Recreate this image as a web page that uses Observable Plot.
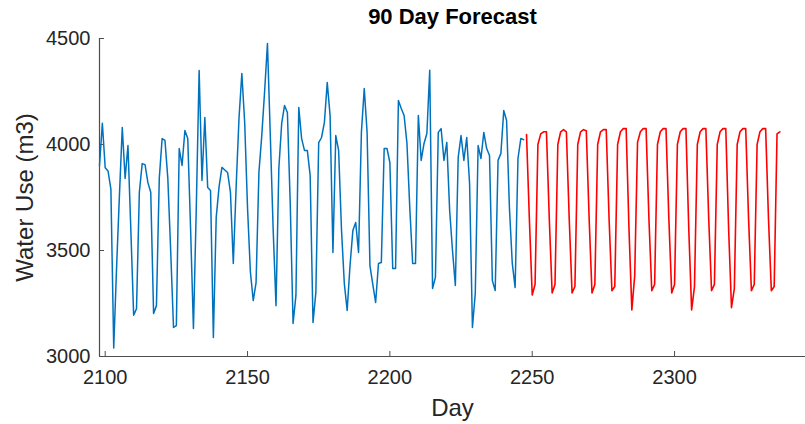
<!DOCTYPE html>
<html><head><meta charset="utf-8">
<script src="https://cdn.jsdelivr.net/npm/d3@7"></script>
<script src="https://cdn.jsdelivr.net/npm/@observablehq/plot@0.6"></script>
<style>html,body{margin:0;padding:0;background:#fff}svg{display:block}</style>
</head><body><div id="chart"></div>
<script>
const titleText = "90 Day Forecast";
const xLabel = "Day";
const yLabel = "Water Use (m3)";
const xTicks = [2100, 2150, 2200, 2250, 2300];
const yTicks = [3000, 3500, 4000, 4500];

const observedStart = 2098;
const observed = [
  3900, 4100, 3890, 3875, 3790, 3040, 3420, 3760, 4080, 3840,
  3995, 3600, 3195, 3225, 3775, 3910, 3905, 3820, 3775, 3203,
  3240, 3840, 4028, 4019, 3840, 3500, 3137, 3146, 3981, 3901,
  4066, 4028, 3600, 3132, 3700, 4349, 3830, 4127, 3797, 3783,
  3090, 3656, 3800, 3892, 3880, 3868, 3774, 3439, 3800, 4123,
  4335, 4104, 3700, 3400, 3264, 3349, 3868, 4042, 4250, 4476,
  4042, 3600, 3240, 3887, 4100, 4184, 4151, 3722, 3156, 3288,
  4175, 4028, 3972, 3972, 3854, 3160, 3302, 4009, 4033, 4104,
  4292, 4137, 3491, 4042, 3972, 3600, 3344, 3217, 3429, 3594,
  3632, 3491, 4057, 4264, 4057, 3429, 3340, 3255, 3439, 3443,
  3981, 3981, 3915, 3415, 3415, 4208, 4170, 4137, 4005, 3700,
  3439, 3439, 4137, 3925, 4005, 4052, 4350, 3321, 3373, 4057,
  4075, 3925, 4010, 3689, 3500, 3335, 3939, 4042, 3925, 4033,
  3816, 3137, 3297, 3995, 3934, 4057, 3981, 3948, 3358, 3311,
  3925, 3958, 4160, 4113, 3700, 3439, 3325, 3934, 4028, 4023
];

const forecastStart = 2248;
const forecast = [
  4047, 3650, 3290, 3340, 4000, 4050, 4060,
  4060, 3650, 3300, 3340, 4000, 4060, 4070,
  4060, 3650, 3300, 3330, 4000, 4060, 4070,
  4065, 3650, 3300, 3340, 4000, 4060, 4070,
  4070, 3650, 3310, 3330, 4000, 4060, 4075,
  4075, 3600, 3220, 3380, 4010, 4060, 4075,
  4075, 3650, 3310, 3340, 4000, 4060, 4075,
  4075, 3650, 3300, 3340, 4000, 4060, 4075,
  4075, 3600, 3220, 3330, 4000, 4060, 4075,
  4075, 3650, 3310, 3340, 4000, 4060, 4075,
  4075, 3600, 3230, 3320, 4000, 4060, 4075,
  4075, 3650, 3310, 3340, 4000, 4060, 4075,
  4075, 3650, 3310, 3330, 4050, 4060
];

const obsData = observed.map((v, i) => ({day: observedStart + i, value: v}));
const fcData = forecast.map((v, i) => ({day: forecastStart + i, value: v}));

const W = 805, H = 424, mL = 99, mR = 0, mT = 38, mB = 68;
const axisColor = "#262626";

const chart = Plot.plot({
  width: W, height: H,
  marginLeft: mL, marginRight: mR, marginTop: mT, marginBottom: mB,
  x: {domain: [2098, 2346]},
  y: {domain: [3000, 4500]},
  style: {fontFamily: "'Liberation Sans', Arial, sans-serif", fontSize: "20px", color: axisColor, background: "#fff"},
  marks: [
    Plot.ruleY([3000], {stroke: "#4d4d4d", strokeWidth: 1.2}),
    Plot.ruleX([2098], {stroke: "#4d4d4d", strokeWidth: 1.2}),
    Plot.tickX(xTicks, {x: d => d, insetTop: (H - mT - mB) - 5, stroke: "#4d4d4d"}),
    Plot.tickY(yTicks, {y: d => d, insetRight: (W - mL - mR) - 5, stroke: "#4d4d4d"}),
    Plot.axisX({ticks: xTicks, tickSize: 0, tickPadding: 13, label: null, tickFormat: d => String(d), fontSize: 20}),
    Plot.axisY({ticks: yTicks, tickSize: 0, tickPadding: 9, label: null, tickFormat: d => String(d), fontSize: 20}),
    Plot.line(obsData, {x: "day", y: "value", stroke: "#0072BD", strokeWidth: 1.5}),
    Plot.line(fcData, {x: "day", y: "value", stroke: "#FF0000", strokeWidth: 1.6}),
    Plot.text([xLabel], {frameAnchor: "bottom", dy: 59, fontSize: 24, fill: axisColor}),
    Plot.text([yLabel], {frameAnchor: "left", textAnchor: "middle", dx: -74, rotate: -90, fontSize: 24, fill: axisColor}),
    Plot.text([titleText], {frameAnchor: "top", dy: -30, fontSize: 22, fontWeight: "bold", fill: "#000"})
  ]
});
document.getElementById("chart").appendChild(chart);
</script>
</body></html>
